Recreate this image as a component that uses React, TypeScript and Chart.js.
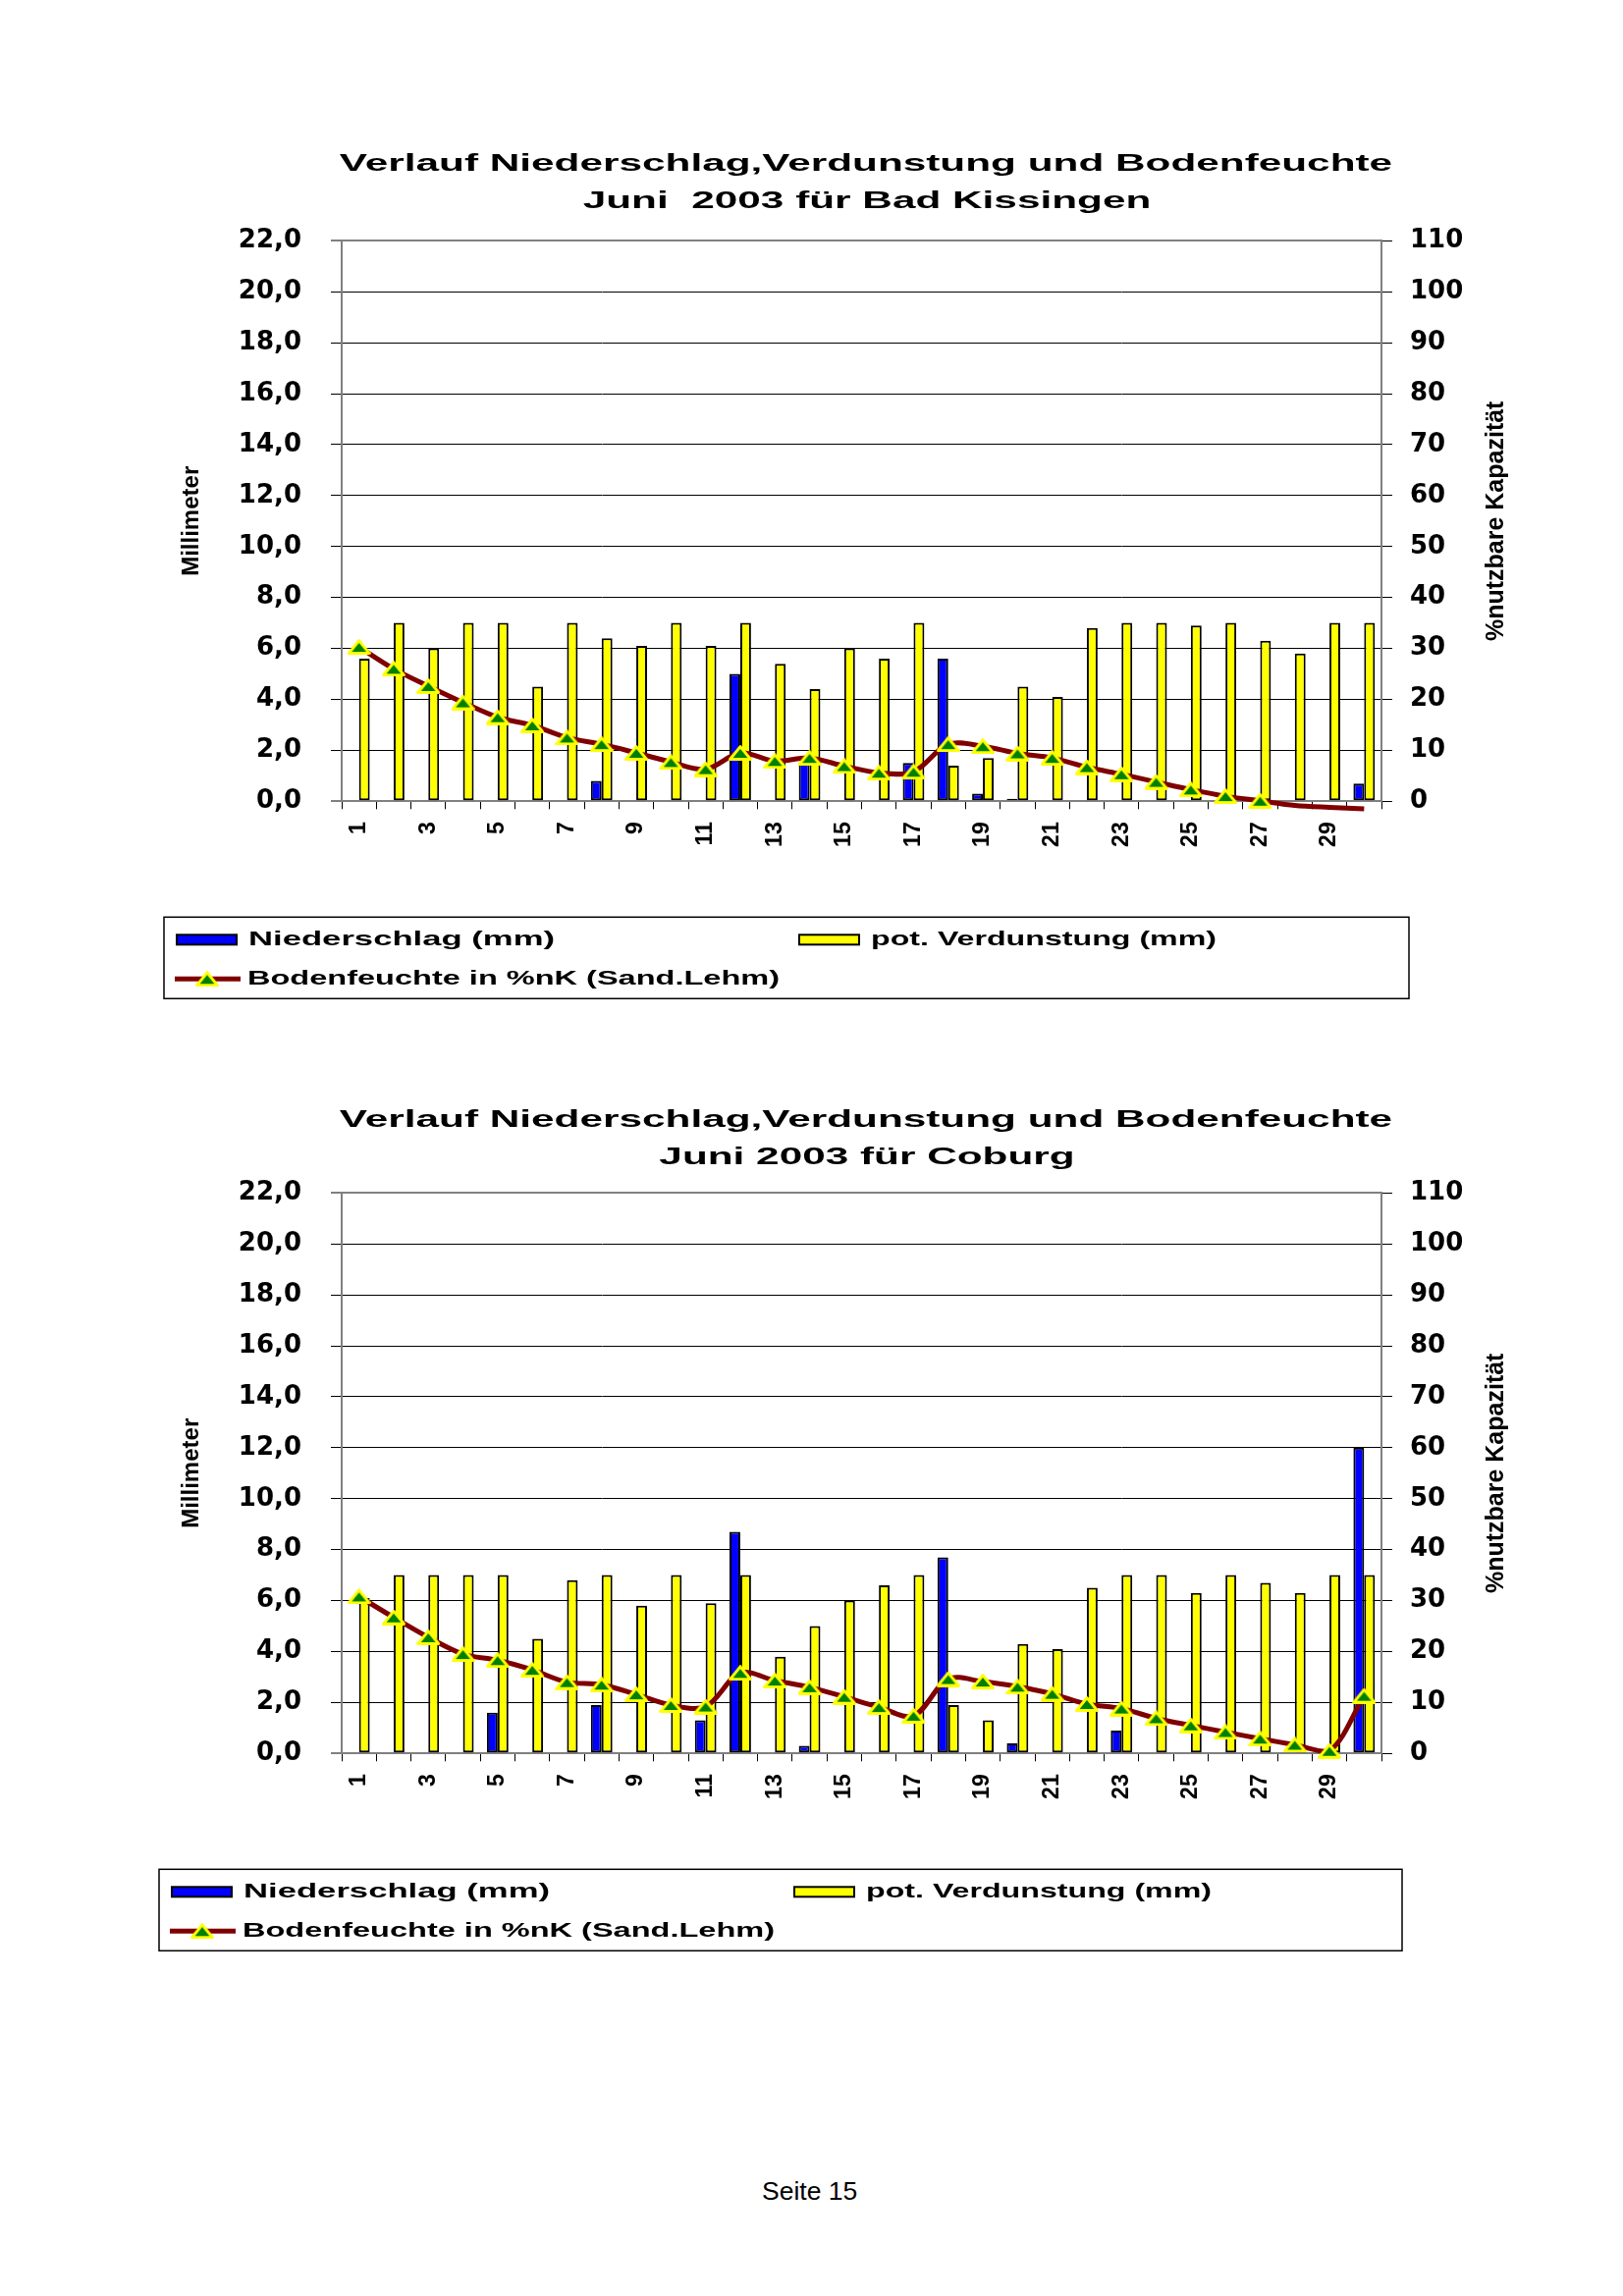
import React, { useEffect, useRef } from 'react';
import { Chart, registerables } from 'chart.js';

Chart.register(...registerables);

// ---------- data ----------
const days = ['1', '2', '3', '4', '5', '6', '7', '8', '9', '10', '11', '12', '13', '14', '15',
  '16', '17', '18', '19', '20', '21', '22', '23', '24', '25', '26', '27', '28', '29', '30'];

const seriesLabels = ['Niederschlag (mm)', 'pot. Verdunstung (mm)', 'Bodenfeuchte in %nK (Sand.Lehm)'];

const titleCommon = 'Verlauf Niederschlag,Verdunstung und Bodenfeuchte';
const titleKissingen = 'Juni  2003 für Bad Kissingen';
const titleCoburg = 'Juni 2003 für Coburg';

const leftAxisTitle = 'Millimeter';
const rightAxisTitle = '%nutzbare Kapazität';

const kissingenRain = [0, 0, 0, 0, 0, 0, 0, 0.8, 0, 0, 0, 5.0, 0, 1.5, 0,
  0, 1.5, 5.6, 0.3, 0.1, 0, 0, 0, 0, 0, 0, 0, 0, 0, 0.7];
const kissingenEvap = [5.6, 7.0, 6.0, 7.0, 7.0, 4.5, 7.0, 6.4, 6.1, 7.0, 6.1, 7.0, 5.4, 4.4, 6.0,
  5.6, 7.0, 1.4, 1.7, 4.5, 4.1, 6.8, 7.0, 7.0, 6.9, 7.0, 6.3, 5.8, 7.0, 7.0];
const kissingenSoil = [30.3, 26.0, 22.6, 19.4, 16.5, 14.9, 12.5, 11.2, 9.5, 7.7, 6.3, 9.5, 7.9, 8.5, 6.9,
  5.6, 5.8, 11.2, 10.8, 9.4, 8.5, 6.7, 5.3, 3.8, 2.3, 1.0, 0.1, -0.8, -1.2, -1.5];

const coburgRain = [0, 0, 0, 0, 1.6, 0, 0, 1.9, 0, 0, 1.3, 8.7, 0, 0.3, 0,
  0, 0, 7.7, 0, 0.4, 0, 0, 0.9, 0, 0, 0, 0, 0, 0, 12.0];
const coburgEvap = [6.1, 7.0, 7.0, 7.0, 7.0, 4.5, 6.8, 7.0, 5.8, 7.0, 5.9, 7.0, 3.8, 5.0, 6.0,
  6.6, 7.0, 1.9, 1.3, 4.3, 4.1, 6.5, 7.0, 7.0, 6.3, 7.0, 6.7, 6.3, 7.0, 7.0];
const coburgSoil = [30.8, 26.7, 22.8, 19.5, 18.3, 16.4, 14.0, 13.5, 11.6, 9.5, 9.2, 15.8, 14.3, 13.0, 11.1,
  9.1, 7.4, 14.6, 14.1, 13.1, 11.7, 9.7, 8.8, 6.9, 5.5, 4.2, 2.9, 1.7, 0.5, 11.3];

// ---------- style ----------
const PAGE_W = 1653;
const CANVAS_H = 920;
const SANS = "'Liberation Sans', Arial, sans-serif";
const TICK_FONT = 'DejaVu Sans';
const GRAY = '#808080';
const LEGEND_TEXT_W = [312, 352, 542];

Chart.defaults.font.family = TICK_FONT;
Chart.defaults.color = '#000';

let markerCache: HTMLCanvasElement | null = null;
function triangleMarker(): HTMLCanvasElement {
  if (markerCache) return markerCache;
  const c = document.createElement('canvas');
  c.width = 24;
  c.height = 16;
  const g = c.getContext('2d') as CanvasRenderingContext2D;
  g.beginPath();
  g.moveTo(12, 1.6);
  g.lineTo(22.4, 14.4);
  g.lineTo(1.6, 14.4);
  g.closePath();
  g.fillStyle = '#008000';
  g.fill();
  g.strokeStyle = '#FFFF00';
  g.lineWidth = 3;
  g.lineJoin = 'round';
  g.stroke();
  markerCache = c;
  return c;
}

function drawText(ctx: CanvasRenderingContext2D, text: string, x: number, y: number, size: number,
  stretch: number, align: CanvasTextAlign, rotate = 0, targetW = 0) {
  ctx.save();
  ctx.translate(x, y);
  if (rotate) ctx.rotate(rotate);
  ctx.font = `bold ${size}px ${SANS}`;
  let s = stretch;
  if (targetW > 0) s = targetW / ctx.measureText(text).width;
  ctx.scale(s, 1);
  ctx.fillStyle = '#000';
  ctx.textAlign = align;
  ctx.textBaseline = 'middle';
  ctx.fillText(text, 0, 0);
  ctx.restore();
}

type PanelProps = {
  top: number;
  subtitle: string;
  rain: number[];
  evap: number[];
  soil: number[];
  titleY: number;
  legendX: number;
  legendW: number;
};

function makeDecor(p: PanelProps) {
  return {
    id: 'pageDecor',
    afterDraw(chart: any) {
      const ctx: CanvasRenderingContext2D = chart.ctx;
      const a = chart.chartArea;
      // title
      drawText(ctx, titleCommon, 882, p.titleY, 23, 1.84, 'center');
      drawText(ctx, p.subtitle, 883, p.titleY + 38, 23, 1.84, 'center');
      // axis titles
      const midY = (a.top + a.bottom) / 2;
      drawText(ctx, leftAxisTitle, 195, midY, 24, 1, 'center', -Math.PI / 2);
      drawText(ctx, rightAxisTitle, 1524, midY, 25, 1, 'center', -Math.PI / 2);
      // legend
      const ds = chart.data.datasets;
      const boxY = a.bottom + 118;
      const boxH = 83;
      ctx.save();
      ctx.strokeStyle = '#000';
      ctx.lineWidth = 1.5;
      ctx.strokeRect(p.legendX, boxY, p.legendW, boxH);
      ctx.restore();
      const items = [
        { d: ds[0], x: p.legendX + 12, y: boxY + 23 },
        { d: ds[1], x: p.legendX + 646, y: boxY + 23 },
        { d: ds[2], x: p.legendX + 11, y: boxY + 63 },
      ];
      items.forEach((it, i) => {
        ctx.save();
        if (it.d.type === 'bar') {
          ctx.fillStyle = '#000';
          ctx.fillRect(it.x, it.y - 6, 63, 12);
          ctx.fillStyle = it.d.backgroundColor;
          ctx.fillRect(it.x + 2, it.y - 4, 59, 8);
        } else {
          ctx.strokeStyle = it.d.borderColor;
          ctx.lineWidth = 5;
          ctx.beginPath();
          ctx.moveTo(it.x, it.y);
          ctx.lineTo(it.x + 67, it.y);
          ctx.stroke();
          const m = triangleMarker();
          ctx.drawImage(m, it.x + 33 - m.width / 2, it.y - m.height / 2);
        }
        ctx.restore();
        drawText(ctx, it.d.label, it.x + 74, it.y, 21, 1.57, 'left', 0, LEGEND_TEXT_W[i]);
      });
    },
  };
}

function buildConfig(p: PanelProps): any {
  const edgeLine = (c: any) => c.tick && (c.tick.value === 22 || c.tick.value === 0);
  return {
    type: 'bar',
    data: {
      labels: days,
      datasets: [
        {
          type: 'bar', label: seriesLabels[0], data: p.rain, yAxisID: 'y', order: 2,
          backgroundColor: '#0000FF', borderColor: '#000', borderWidth: 2, borderSkipped: false,
          categoryPercentage: 0.62, barPercentage: 1,
        },
        {
          type: 'bar', label: seriesLabels[1], data: p.evap, yAxisID: 'y', order: 2,
          backgroundColor: '#FFFF00', borderColor: '#000', borderWidth: 2, borderSkipped: false,
          categoryPercentage: 0.62, barPercentage: 1,
        },
        {
          type: 'line', label: seriesLabels[2], data: p.soil, yAxisID: 'y1', order: 0,
          borderColor: '#800000', borderWidth: 5, tension: 0.33, clip: false,
          pointStyle: triangleMarker(),
          pointRadius: (c: any) => (c.raw < 0 ? 0 : 9),
          pointBackgroundColor: '#008000', pointBorderColor: '#FFFF00', pointBorderWidth: 3,
        },
      ],
    },
    options: {
      responsive: false,
      animation: false,
      events: [],
      layout: { padding: { top: 125.3, bottom: 123.7, left: 0, right: 0 } },
      plugins: { legend: { display: false }, title: { display: false }, tooltip: { enabled: false } },
      scales: {
        x: {
          offset: true,
          grid: { offset: true, drawOnChartArea: false, drawTicks: true, tickLength: 8, color: '#000', lineWidth: 1 },
          border: { display: true, color: GRAY, width: 2 },
          ticks: {
            autoSkip: false, maxRotation: 90, minRotation: 90, padding: 13, color: '#000',
            font: { family: SANS, weight: 'bold', size: 23 },
            callback: (_v: any, i: number) => (i % 2 === 0 ? days[i] : ''),
          },
          afterFit: (s: any) => { s.height = 100; },
        },
        y: {
          position: 'left', min: 0, max: 22,
          ticks: {
            stepSize: 2, padding: 30, color: '#000',
            font: { family: TICK_FONT, weight: 'bold', size: 26 },
            callback: (v: any) => Number(v).toFixed(1).replace('.', ','),
          },
          grid: {
            color: (c: any) => (edgeLine(c) ? GRAY : '#000'),
            lineWidth: (c: any) => (edgeLine(c) ? 2 : 1),
            tickLength: 11, tickColor: '#000', tickWidth: 1,
          },
          border: { display: true, color: GRAY, width: 2 },
          afterFit: (s: any) => { s.width = 348; },
        },
        y1: {
          position: 'right', min: 0, max: 110,
          ticks: {
            stepSize: 10, padding: 18, color: '#000',
            font: { family: TICK_FONT, weight: 'bold', size: 26 },
          },
          grid: { drawOnChartArea: false, tickLength: 11, color: '#000', tickWidth: 1 },
          border: { display: true, color: GRAY, width: 2 },
          afterFit: (s: any) => { s.width = PAGE_W - 1407; },
        },
      },
    },
    plugins: [makeDecor(p)],
  };
}

function ClimatePanel(p: PanelProps) {
  const ref = useRef<HTMLCanvasElement>(null);
  useEffect(() => {
    if (!ref.current) return;
    const chart = new Chart(ref.current, buildConfig(p));
    return () => chart.destroy();
  }, []);
  return (
    <canvas
      ref={ref}
      width={PAGE_W}
      height={CANVAS_H}
      style={{ position: 'absolute', left: 0, top: p.top, width: PAGE_W, height: CANVAS_H, display: 'block' }}
    />
  );
}

export default function App() {
  return (
    <div style={{ position: 'absolute', left: 0, top: 0, width: PAGE_W, height: 2339, background: '#fff', overflow: 'hidden' }}>
      <ClimatePanel top={120} subtitle={titleKissingen} rain={kissingenRain} evap={kissingenEvap}
        soil={kissingenSoil} titleY={48} legendX={167} legendW={1268} />
      <ClimatePanel top={1090} subtitle={titleCoburg} rain={coburgRain} evap={coburgEvap}
        soil={coburgSoil} titleY={52} legendX={162} legendW={1266} />
      <div style={{ position: 'absolute', left: 776, top: 2217, fontFamily: SANS, fontSize: '26.5px', color: '#000', lineHeight: 'normal', whiteSpace: 'nowrap' }}>
        Seite 15
      </div>
    </div>
  );
}
